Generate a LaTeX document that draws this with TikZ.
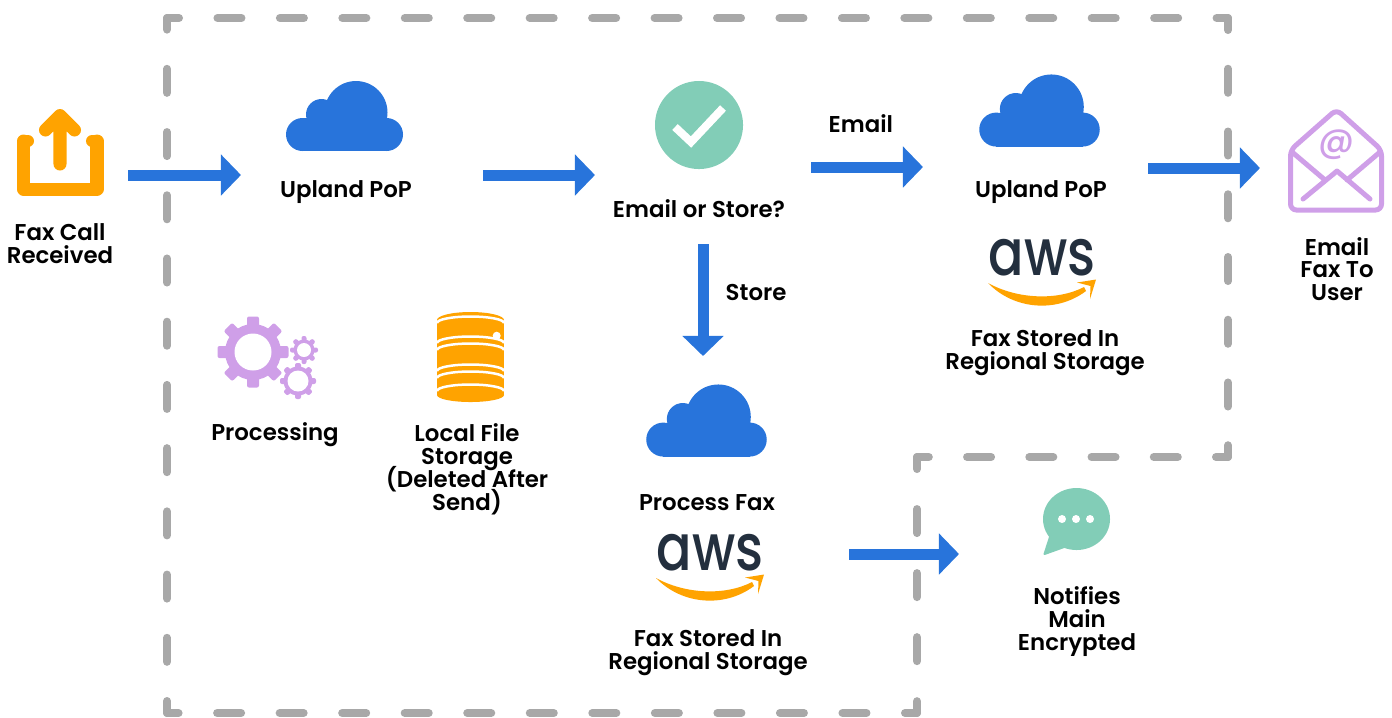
\documentclass[tikz,border=0pt]{standalone}
\usepackage{fontspec}
\setmainfont{Poppins}[BoldFont={Poppins SemiBold}]
\newfontfamily\logofont{Poppins Medium}
\usetikzlibrary{arrows.meta}
\definecolor{flowblue}{HTML}{2874DB}
\definecolor{faxorange}{HTML}{FFA300}
\definecolor{gearpurple}{HTML}{CF9FE8}
\definecolor{checkteal}{HTML}{82CDB7}
\definecolor{zonegray}{HTML}{A8A8A8}
\definecolor{awsdark}{HTML}{232F3E}
\newcommand{\labelfont}{\fontsize{6.5}{6.5}\selectfont\bfseries\setlength{\lineskiplimit}{-1cm}\relax}
\tikzset{
  labeltext/.style={align=center,inner sep=0pt,font=\labelfont},
  iconbox/.style 2 args={minimum width=#1,minimum height=#2,inner sep=0pt,outer sep=0pt},
  flowarrow/.style={draw=flowblue,line width=0.11cm,-{Triangle[length=0.2cm,width=0.4cm]}},
  zoneline/.style={draw=zonegray,line width=0.08cm,line cap=round},
  pics/cloud/.style={code={
    \fill[flowblue] (-42.5,18.5) circle[radius=16.5] (41.5,18.5) circle[radius=16.5]
      (-23.5,-1.5) circle[radius=15.5] (11,-3.5) circle[radius=31.5];
    \fill[flowblue] (-42.5,2) rectangle (41.5,35);
  }},
  pics/gear/.style n args={4}{code={
    \fill[gearpurple] (0,0) circle[radius=#2];
    \foreach \a in {0,45,...,315}
      \fill[gearpurple,rotate=\a,rounded corners=0.02cm] (-#4,0) rectangle (#4,#1);
    \fill[white] (0,0) circle[radius=#3];
  }},
  pics/awslogo/.style={code={
    \node[text=awsdark,inner sep=0pt,xscale=0.81,transform shape,font=\fontsize{18.4}{18.4}\selectfont\logofont] (-logotext) at (0,-14.5) {aws};
    \fill[faxorange] (-54,11) .. controls (-25,27) and (15,29) .. (42,15)
      -- (44,19) .. controls (15,41) and (-28,38) .. (-54,11) -- cycle;
    \fill[faxorange] (35,10.5) -- (54,7.5) -- (48,27) -- (48.5,14) -- cycle;
  }}
}
\begin{document}
\begin{tikzpicture}[x=0.01cm,y=-0.01cm]
\useasboundingbox (0,0) rectangle (1392,717);

\coordinate (zonea) at (167,18);\coordinate (zoneb) at (1228,18);
\coordinate (zonec) at (1228,457);\coordinate (zoned) at (917,457);
\coordinate (zonee) at (917,713);\coordinate (zonef) at (167,713);
\foreach \from/\to/\gap in {zonea/zoneb/.3841,zoneb/zonec/.3871,zonec/zoned/.382,
    zoned/zonee/.40,zonee/zonef/.385,zonef/zonea/.3918}
  \draw[zoneline,dash pattern=on 0.24cm off \gap cm,dash phase=0.12cm] (\from) -- (\to);

\node[iconbox={0.88cm}{0.88cm}] (faxicon) at (60,152) {};
\draw[faxorange,line width=0.13cm,line join=round,line cap=round] (23.5,141) -- (23.5,189) -- (97,189) -- (97,141);
\draw[faxorange,line width=0.12cm,line cap=round] (23.5,141) -- (28,141) (97,141) -- (92,141);
\draw[faxorange,line width=0.13cm,line join=round,line cap=round] (60,164) -- (60,116) (45.5,130) -- (60,115.5) -- (74.5,130);
\node[labeltext] (faxlabel) at (60,244) {Fax Call\\Received};

\node[iconbox={1.17cm}{0.70cm}] (popone) at (345,116) {};
\pic at (popone) {cloud};
\node[labeltext] (poponelabel) at (346,192) {Upland PoP};

\node[circle,fill=checkteal,minimum size=0.88cm,inner sep=0pt,outer sep=0pt] (checkicon) at (699,125) {};
\draw[white,line width=0.08cm] (675,127) -- (691,142) -- (723,108);
\node[labeltext] (checklabel) at (699,209) {Email or Store?};

\node[iconbox={1.20cm}{0.71cm}] (poptwo) at (1040,110.5) {};
\pic[scale=1.03] at (poptwo) {cloud};
\node[labeltext] (poptwolabel) at (1041,192) {Upland PoP};
\pic at (1042,272) {awslogo};
\node[labeltext] (storetwolabel) at (1045,353) {Fax Stored In\\Regional Storage};

\node[iconbox={0.97cm}{1.05cm}] (mailicon) at (1336,160.5) {};
\draw[gearpurple,line width=0.05cm,rounded corners=0.06cm] (1336.5,109.5) -- (1290.5,150) -- (1290.5,210) -- (1381.5,210) -- (1381.5,150) -- cycle;
\draw[gearpurple,line width=0.05cm,line cap=round,line join=round] (1292,152) -- (1325,180) (1380,152) -- (1347,180)
  (1303,199) -- (1337,171) -- (1370,199);
\node[text=gearpurple,inner sep=0pt,font=\fontsize{10}{10}\selectfont\logofont] (mailat) at (1336,145) {@};
\node[labeltext] (maillabel) at (1337,269) {Email\\Fax To\\User};

\node[iconbox={1.20cm}{0.71cm}] (popthree) at (707,420.5) {};
\pic[scale=1.03] at (popthree) {cloud};
\node[labeltext] (popthreelabel) at (707,503) {Process Fax};
\pic at (710,567) {awslogo};
\node[labeltext] (storethreelabel) at (708,653) {Fax Stored In\\Regional Storage};

\pic at (253,352) {gear={35.5}{28}{18.5}{6}};
\pic at (304,350) {gear={14}{10.5}{7}{2.5}};
\pic at (298,381) {gear={18}{14.5}{10.5}{3}};
\node[labeltext] (gearlabel) at (275,435) {Processing};

\fill[faxorange] (470.5,320) ellipse[x radius=33.5,y radius=8];
\fill[faxorange] (437,320) rectangle (504,395);
\fill[faxorange] (470.5,395) ellipse[x radius=33.5,y radius=7];
\foreach \y in {323,343,350,371,378,391}
  \draw[white,line width=0.025cm] (437,\y) arc[start angle=180,end angle=360,x radius=33.5,y radius=6.5];
\fill[white] (496.7,335.7) circle[radius=4];
\node[labeltext] (locallabel) at (467,469) {Local File\\Storage\\(Deleted After\\Send)};

\node[iconbox={0.67cm}{0.67cm}] (chaticon) at (1076,522) {};
\fill[checkteal] (1076.5,519) ellipse[x radius=33.5,y radius=31];
\fill[checkteal,line join=round,draw=checkteal,line width=0.02cm] (1050,537) -- (1044.5,554) -- (1064,547) -- cycle;
\foreach \x in {1062,1076,1090}
  \fill[white] (\x,519) circle[radius=4];
\node[labeltext] (chatlabel) at (1077,621.5) {Notifies\\Main\\Encrypted};

\draw[flowarrow] ([shift={(24,23)}]faxicon.east) -- ([shift={(-45.5,59)}]popone.west);
\draw[flowarrow] ([shift={(79.5,59)}]popone.east) -- ([shift={(-60,50)}]checkicon.west);
\draw[flowarrow] ([shift={(68,42)}]checkicon.east) -- ([shift={(-57,56.5)}]poptwo.west);
\draw[flowarrow] ([shift={(48,57.5)}]poptwo.east) -- ([shift={(-27.5,7.5)}]mailicon.west);
\draw[flowarrow] ([shift={(4,75)}]checkicon.south) -- ([shift={(-4,-29)}]popthree.north);
\draw[flowarrow] ([shift={(82,133.5)}]popthree.east) -- ([shift={(-83.5,32)}]chaticon.west);
\node[labeltext,anchor=west] (emaillabel) at (828,124) {Email};
\node[labeltext,anchor=west] (storelabel) at (725,292) {Store};
\end{tikzpicture}
\end{document}
